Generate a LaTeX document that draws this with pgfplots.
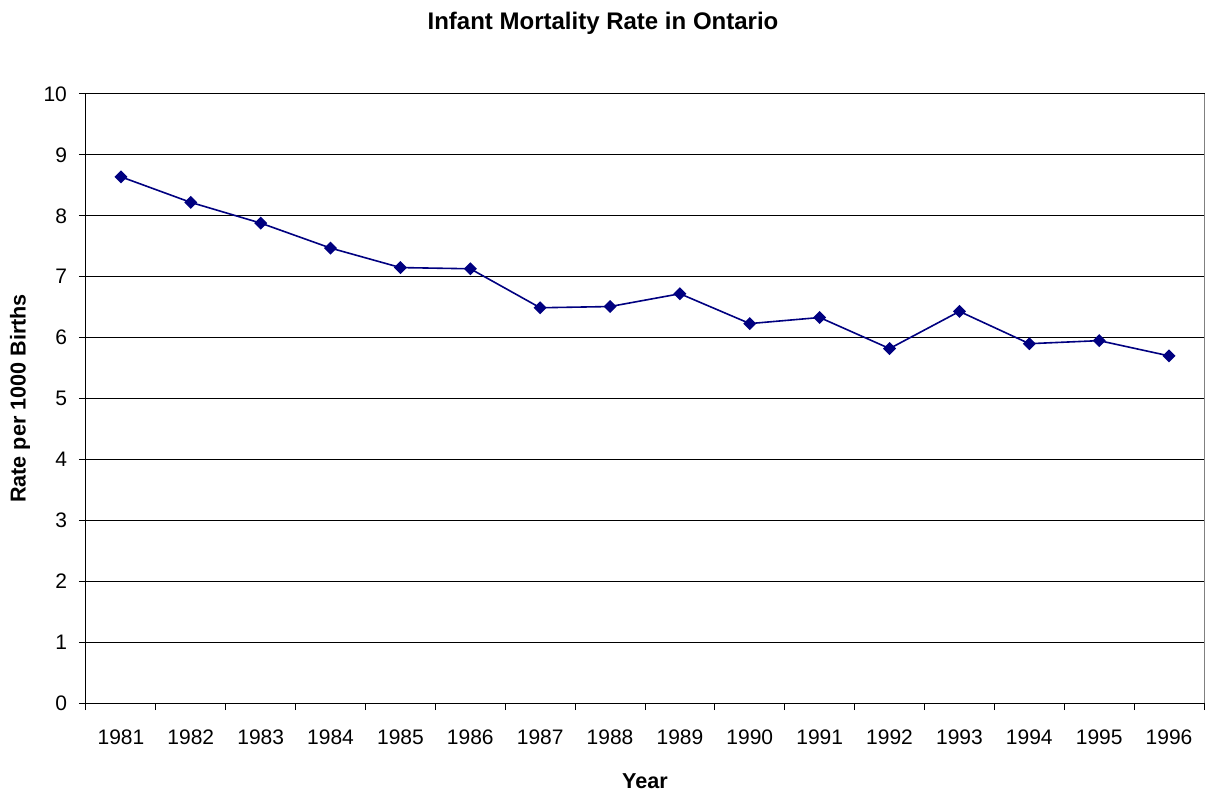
\documentclass[border=0pt]{standalone}
\usepackage{pgfplots}
\pgfplotsset{compat=1.18}
\usepackage{fontspec}
\setmainfont{Liberation Sans}
\definecolor{navyline}{RGB}{0,0,128}
\begin{document}
\begin{tikzpicture}
\useasboundingbox (0,0) rectangle (603pt,397pt);
\begin{axis}[
  scale only axis,
  width=559pt, height=304.5pt,
  at={(43pt,45.5pt)}, anchor=south west,
  xmin=-0.5, xmax=15.5,
  ymin=0, ymax=10,
  ytick={0,1,...,10},
  xtick={0,...,15},
  xticklabels={1981,1982,1983,1984,1985,1986,1987,1988,1989,1990,1991,1992,1993,1994,1995,1996},
  minor xtick={-0.5,0.5,...,15.5},
  major x tick style={draw=none},
  xtick pos=bottom, ytick pos=left,
  tick align=outside,
  major tick length=3.5pt, minor tick length=3.5pt,
  tick style={black, line width=0.5pt},
  ymajorgrids, grid style={black, line width=0.5pt},
  axis line style={black, line width=0.5pt},
  /pgf/number format/assume math mode=true,
  ticklabel style={font=\fontsize{10.5}{12}\selectfont},
  yticklabel style={xshift=-2.5pt},
  xticklabel style={yshift=-6.5pt},
  xlabel={Year},
  xlabel style={at={(axis description cs:0.5,-0.1396)}, anchor=base, font=\bfseries\fontsize{10.8}{13}\selectfont},
  ylabel={Rate per 1000 Births},
  ylabel style={at={(axis description cs:-0.059,0.5)}, anchor=center, font=\bfseries\fontsize{10.8}{13}\selectfont},
  clip=false,
]
\addplot[navyline, line width=0.8pt, mark=square*, mark size=1.9pt, mark options={rotate=45, fill=navyline, draw=navyline}]
coordinates {
(0,8.64) (1,8.22) (2,7.88) (3,7.47) (4,7.15) (5,7.13) (6,6.49) (7,6.51)
(8,6.72) (9,6.23) (10,6.33) (11,5.82) (12,6.43) (13,5.90) (14,5.95) (15,5.70)
};
\draw[gray, line width=0.5pt] (rel axis cs:1,0) -- (rel axis cs:1,1);
\end{axis}
\node[anchor=base, inner sep=0pt, font=\bfseries\fontsize{12}{14}\selectfont] at (301.5pt,382pt) {Infant Mortality Rate in Ontario};
\end{tikzpicture}
\end{document}
